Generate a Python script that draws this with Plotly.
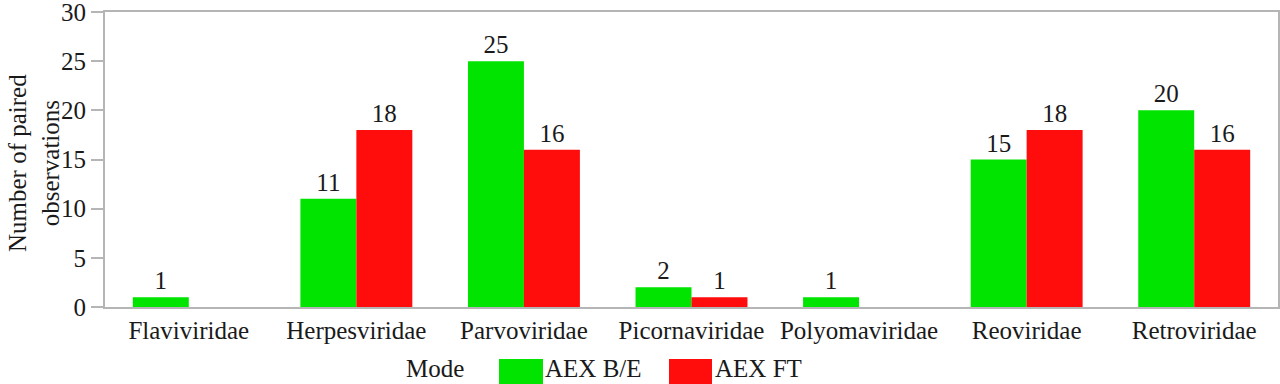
import plotly.graph_objects as go

categories = ["Flaviviridae", "Herpesviridae", "Parvoviridae", "Picornaviridae",
              "Polyomaviridae", "Reoviridae", "Retroviridae"]
aex_be = [1, 11, 25, 2, 1, 15, 20]
aex_ft = [None, 18, 16, 1, None, 18, 16]
series_names = ["AEX B/E", "AEX FT"]
colors = ["#00E400", "#FF0D0D"]
FF = "Liberation Serif"
FS = 25
TXT = "#1a1a1a"

fig = go.Figure()
for name, vals, col in zip(series_names, [aex_be, aex_ft], colors):
    fig.add_trace(go.Bar(
        x=categories, y=vals, name=name, marker=dict(color=col, line=dict(width=0)),
        text=[("" if v is None else str(v)) for v in vals],
        textposition="outside", cliponaxis=False,
        textfont=dict(family=FF, size=FS, color=TXT),
        showlegend=False,
    ))

fig.update_layout(
    width=1280, height=384,
    margin=dict(l=105, r=2, t=12, b=77, autoexpand=False),
    barmode="group", bargap=0.332, bargroupgap=0,
    plot_bgcolor="white", paper_bgcolor="white",
    font=dict(family=FF, size=FS, color=TXT),
)
fig.update_yaxes(
    range=[0, 30], dtick=5, showgrid=False, zeroline=False, automargin=False,
    ticks="outside", ticklen=12, tickcolor="#b5b5b5", tickwidth=2,
    ticklabeloverflow="allow",
    showline=True, linecolor="#b5b5b5", linewidth=2, mirror=True,
    tickfont=dict(family=FF, size=FS, color=TXT),
)
fig.update_xaxes(
    showgrid=False, showline=True, linecolor="#b5b5b5", linewidth=2, mirror=True,
    ticks="", automargin=False, ticklabeloverflow="allow",
    tickfont=dict(family=FF, size=FS, color=TXT),
)

# positions in page pixels converted to paper coords
def px(x):
    return (x - 105) / 1173

def py(y):
    return (307 - y) / 295

# y-axis title
fig.add_annotation(x=px(34), y=py(163), xref="paper", yref="paper",
                   text="Number of paired<br>observations", textangle=-90,
                   xanchor="center", yanchor="middle", showarrow=False,
                   font=dict(family=FF, size=FS, color=TXT))

# custom legend
fig.add_annotation(x=px(435), y=py(384), xref="paper", yref="paper", text="Mode",
                   xanchor="center", yanchor="bottom",
                   showarrow=False, font=dict(family=FF, size=FS, color=TXT))
legend_items = [(499, 543, 545, "AEX B/E"), (669, 712, 715, "AEX FT")]
for (x0, x1, xt, label), col in zip(legend_items, colors):
    fig.add_shape(type="rect", xref="paper", yref="paper",
                  x0=px(x0), x1=px(x1), y0=py(359), y1=py(384),
                  fillcolor=col, line=dict(width=0))
    fig.add_annotation(x=px(xt - 2), y=py(384), xref="paper", yref="paper",
                       xanchor="left", yanchor="bottom", text=label, showarrow=False,
                       font=dict(family=FF, size=FS, color=TXT))

fig.write_html("out.html", config={"displayModeBar": False},
               post_script="document.body.style.margin='0';document.body.style.overflow='hidden';")
